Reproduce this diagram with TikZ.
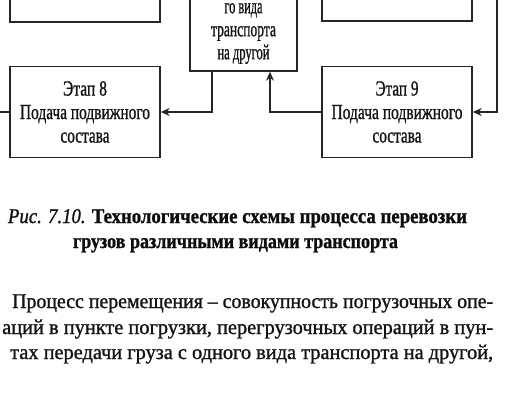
\documentclass[tikz,border=0pt]{standalone}
\usepackage{fontspec}
\setmainfont{Liberation Serif}[FakeBold=1.2]
\usepackage{graphicx}
\usetikzlibrary{arrows.meta}
\newcommand{\fitw}[2]{\resizebox{#1pt}{\height}{#2}}
\begin{document}
\begin{tikzpicture}[x=1pt,y=-1pt,
  stagebox/.style={draw=black!85, line width=1.5pt, minimum width=150pt, inner sep=0pt,
    align=center, text=black!92, font=\fontsize{21.5}{23.5}\selectfont},
  midbox/.style={stagebox, minimum width=107pt},
  boxtext/.style={align=center, inner sep=0pt, text=black!92, font=\fontsize{21.5}{23}\selectfont},
  conn/.style={draw=black!85, line width=1.4pt},
  arr/.style={conn, -{Stealth[length=9pt,width=8pt]}},
  captext/.style={anchor=base, inner sep=0pt, text=black!95, font=\fontsize{21}{23}\selectfont},
  paratext/.style={anchor=base west, inner sep=0pt, text=black!92, font=\fontsize{21}{24}\selectfont}]
\useasboundingbox (0,0) rectangle (528,420);
\clip (0,0) rectangle (528,420);
% boxes
\node[stagebox, minimum height=60pt] (tl) at (85,-8) {};
\node[stagebox, minimum height=60pt] (tr) at (397,-9) {};
\node[midbox, minimum height=110pt] (tm) at (243.5,16) {};
\node[boxtext] (tmtext) at (243.5,33.5) {\fitw{38}{го вида}\\\fitw{65}{транспорта}\\\fitw{52}{на другой}};
\node[stagebox, minimum height=91pt] (e8) at (85,112) {\fitw{44}{Этап 8}\\\fitw{130}{Подача подвижного}\\\fitw{49}{состава}};
\node[stagebox, minimum height=91pt] (e9) at (397,112) {\fitw{43}{Этап 9}\\\fitw{131}{Подача подвижного}\\\fitw{49}{состава}};
% connectors
\coordinate (rtop) at (497,-5);
\coordinate (lend) at (-5,112);
\draw[arr] ([xshift=-31.5pt]tm.south) |- (e8.east);
\draw[arr] (e9.west) -| ([xshift=26.5pt]tm.south);
\draw[arr] (rtop) |- (e9.east);
\draw[conn] (e8.west) -- (lend);
% caption
\node[captext] (cap1) at (237.5,223) {\fitw{459}{\textit{Рис. 7.10.} \textbf{Технологические схемы процесса перевозки}}};
\node[captext] (cap2) at (235.5,248) {\fitw{325}{\textbf{грузов различными видами транспорта}}};
% paragraph
\node[paratext] (p1) at (12,308) {\fitw{481}{Процесс перемещения – совокупность погрузочных опе-}};
\node[paratext] (p2) at (2,334) {\fitw{491}{аций в пункте погрузки, перегрузочных операций в пун-}};
\node[paratext] (p3) at (10,359) {\fitw{483}{тах передачи груза с одного вида транспорта на другой,}};
\end{tikzpicture}
\end{document}
